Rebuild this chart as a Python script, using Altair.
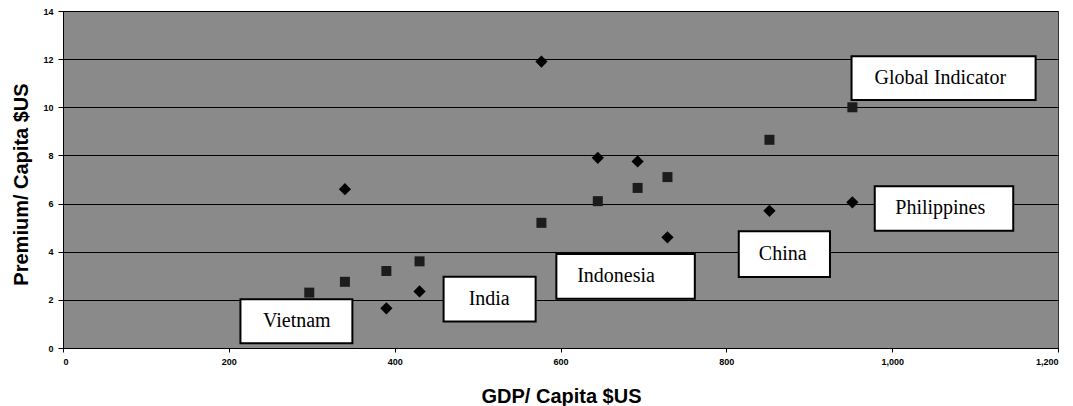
import altair as alt
import pandas as pd

# Country observations (diamonds)
country_gdp = [340, 390, 430, 577, 645, 693, 729, 852, 952]
country_premium = [6.6, 1.65, 2.35, 11.9, 7.9, 7.75, 4.6, 5.7, 6.05]

# Global indicator (squares)
global_gdp = [297, 340, 390, 430, 577, 645, 693, 729, 852, 952]
global_premium = [2.3, 2.75, 3.2, 3.6, 5.2, 6.1, 6.65, 7.1, 8.65, 10.0]

# Annotation boxes (data coordinates)
label_text = ["Vietnam", "India", "Indonesia", "China", "Philippines", "Global  Indicator"]
label_x1 = [214, 459, 595, 815, 979, 951]
label_x2 = [349, 570, 762, 925, 1146, 1173]
label_y1 = [0.2, 1.1, 2.05, 2.95, 4.87, 10.3]
label_y2 = [2.03, 2.96, 3.9, 4.85, 6.72, 12.12]
label_tx = [282, 514, 667, 868, 1058, 1058]
label_ty = [1.12, 2.03, 2.99, 3.9, 5.81, 11.2]

x_ticks = [0, 200, 400, 600, 800, 1000, 1200]
y_ticks = [0, 2, 4, 6, 8, 10, 12, 14]

pts = pd.DataFrame(
    {"gdp": country_gdp + global_gdp,
     "premium": country_premium + global_premium,
     "series": ["Country"] * len(country_gdp) + ["Global Indicator"] * len(global_gdp)}
)
labels = pd.DataFrame({"text": label_text, "x1": label_x1, "x2": label_x2,
                       "y1": label_y1, "y2": label_y2, "tx": label_tx, "ty": label_ty})

xs = alt.Scale(domain=[0, 1200], nice=False, zero=False)
ys = alt.Scale(domain=[0, 14], nice=False)

xaxis = alt.Axis(values=x_ticks, format=",.0f", grid=False, title="GDP/ Capita $US",
                 labelFont="Liberation Sans", labelFontSize=9, labelFontWeight="bold",
                 labelColor="black", tickColor="black", tickSize=4, labelPadding=5,
                 domainColor="black", titleFont="Liberation Sans", titleFontSize=20,
                 titleFontWeight="bold", titleColor="black", titleBaseline="alphabetic",
                 titleY=54, titleX=498, labelFlush=True, labelOverlap=False)
yaxis = alt.Axis(values=y_ticks, grid=True, gridColor="black", gridWidth=1, gridOpacity=1,
                 title="Premium/ Capita $US", labelFont="Liberation Sans", labelFontSize=9,
                 labelFontWeight="bold", labelColor="black", tickColor="black", tickSize=5,
                 labelPadding=5, domainColor="black", titleFont="Liberation Sans",
                 titleFontSize=20, titleFontWeight="bold", titleColor="black",
                 titleBaseline="alphabetic", titleX=-36, titleY=173, labelFlush=False)

points = alt.Chart(pts).mark_point(filled=True, opacity=1).encode(
    x=alt.X("gdp:Q", scale=xs, axis=xaxis),
    y=alt.Y("premium:Q", scale=ys, axis=yaxis),
    shape=alt.Shape("series:N", scale=alt.Scale(domain=["Country", "Global Indicator"],
                                                 range=["diamond", "square"]), legend=None),
    size=alt.Size("series:N", scale=alt.Scale(domain=["Country", "Global Indicator"],
                                               range=[150, 100]), legend=None),
    color=alt.Color("series:N", scale=alt.Scale(domain=["Country", "Global Indicator"],
                                                 range=["#000000", "#1c1c1c"]), legend=None),
)

boxes = alt.Chart(labels).mark_rect(fill="white", stroke="black", strokeWidth=2).encode(
    x=alt.X("x1:Q", scale=xs), x2="x2:Q",
    y=alt.Y("y1:Q", scale=ys), y2="y2:Q",
)

texts = alt.Chart(labels).mark_text(font="Liberation Serif", fontSize=20, color="black",
                                    align="center", baseline="middle").encode(
    x=alt.X("tx:Q", scale=xs), y=alt.Y("ty:Q", scale=ys), text="text:N"
)

chart = alt.layer(points, boxes, texts).properties(
    width=995, height=337,
    autosize=alt.AutoSizeParams(type="none"),
    padding={"left": 55, "top": 3, "right": 6, "bottom": 59},
    background="white",
).configure_view(fill="#8a8a8a", stroke="#333333", strokeWidth=1)

chart.save("out.html", embed_options={"renderer": "svg", "actions": False})
